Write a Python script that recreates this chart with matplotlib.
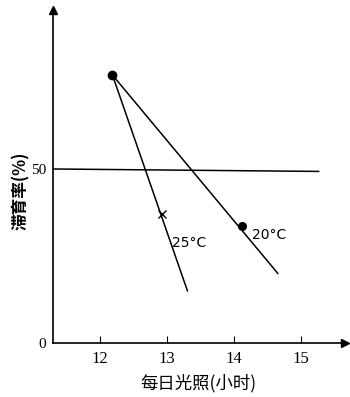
import matplotlib.pyplot as plt

plt.rcParams['font.family'] = ['Noto Sans CJK SC', 'DejaVu Sans']

# hours of light per day vs diapause rate (%)
line25_x = [12.19, 13.31]
line25_y = [77, 15]
line20_x = [12.19, 14.66]
line20_y = [77, 20]
start_x, start_y = 12.19, 77
cross25_x, cross25_y = 12.93, 37
dot20_x, dot20_y = 14.12, 33.5
ref_x = [11.3, 15.27]
ref_y = [50, 49.3]
xticks = [12, 13, 14, 15]

fig = plt.figure(figsize=(3.5, 3.97), dpi=100)
ax = fig.add_axes([0.151, 0.136, 0.834, 0.839])
ax.set_xlim(11.3, 15.66)
ax.set_ylim(0, 95.7)

ax.plot(line25_x, line25_y, color='black', lw=1.1)
ax.plot(line20_x, line20_y, color='black', lw=1.1)
ax.plot(ref_x, ref_y, color='black', lw=1.1)
ax.plot(start_x, start_y, 'o', color='black', ms=6)
ax.plot(cross25_x, cross25_y, 'x', color='black', ms=6, mew=1)
ax.plot(dot20_x, dot20_y, 'o', color='black', ms=5.5)

ax.text(13.08, 27.5, '25°C', fontsize=10, family=['Liberation Sans Narrow', 'DejaVu Sans'])
ax.text(14.27, 30, '20°C', fontsize=10, family=['Liberation Sans Narrow', 'DejaVu Sans'])

for s in ['top', 'right']:
    ax.spines[s].set_visible(False)
for s in ['left', 'bottom']:
    ax.spines[s].set_linewidth(1.2)

# arrowheads on the axes
ax.plot(1, 0, '>', color='black', ms=6, transform=ax.transAxes, clip_on=False)
ax.plot(0, 1, '^', color='black', ms=6, transform=ax.transAxes, clip_on=False)

ax.set_xticks(xticks)
ax.set_xticklabels([str(t) for t in xticks], fontsize=12, family=['Liberation Serif'])
ax.tick_params(axis='x', direction='in', length=5, width=0.8, pad=6)
ax.set_yticks([0, 50])
ax.set_yticklabels(['0', '50'], fontsize=11, family=['Liberation Serif'])
ax.tick_params(axis='y', length=0, pad=5)

ax.set_xlabel('每日光照(小时)', fontsize=12.5, labelpad=5)
fig.text(0.06, 0.52, '滞育率(%)', rotation=90, fontsize=12, fontweight='bold',
         ha='center', va='center')

plt.savefig('out.png', dpi=100)
